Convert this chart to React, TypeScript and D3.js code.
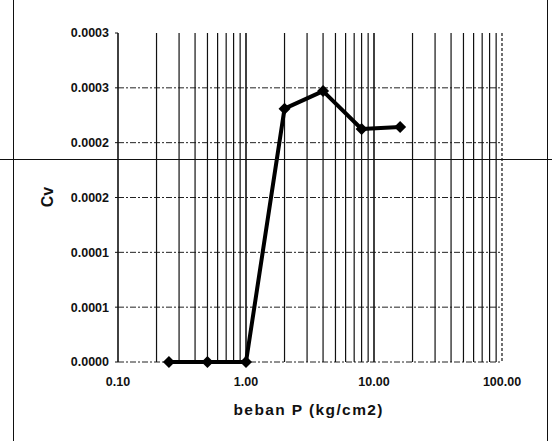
import { scaleLog, scaleLinear, line } from "d3";

const loads = [0.25, 0.5, 1, 2, 4, 8, 16];
const cvValues = [0, 0, 0, 0.000231, 0.000247, 0.0002125, 0.0002143];

const yTickValues = [0, 0.00005, 0.0001, 0.00015, 0.0002, 0.00025, 0.0003];
const yTickLabels = ["0.0000", "0.0001", "0.0001", "0.0002", "0.0002", "0.0003", "0.0003"];
const xTickValues = [0.1, 1, 10, 100];
const xTickLabels = ["0.10", "1.00", "10.00", "100.00"];

const W = 552;
const H = 441;
const left = 118;
const right = 502;
const top = 33;
const bottom = 362;
const font = "'Liberation Sans', Arial, sans-serif";

export default function App() {
    const x = scaleLog().domain([0.1, 100]).range([left, right]);
    const y = scaleLinear().domain([0, 0.0003]).range([bottom, top]);

    // minor log grid: 1..9 in every decade
    const gridX: number[] = [];
    for (let d = 0.1; d < 100; d *= 10) {
        for (let k = 1; k <= 9; k++) gridX.push(d * k);
    }
    gridX.push(100);

    const path = line<number>()
        .x((_, i) => x(loads[i]))
        .y((d) => y(d))(cvValues);

    return (
        <svg
            width={W}
            height={H}
            style={{ position: "absolute", left: 0, top: 0, background: "#fff" }}
        >
            <rect x={0} y={0} width={W} height={H} fill="#fff" />

            {/* horizontal dashed grid */}
            {yTickValues.slice(0, -1).map((v, i) => (
                <line
                    key={i}
                    x1={left}
                    x2={right}
                    y1={y(v)}
                    y2={y(v)}
                    stroke="#222"
                    strokeWidth={1}
                    strokeDasharray="6,2,2,2"
                />
            ))}

            {/* vertical log grid */}
            {gridX.map((v, i) => {
                const isEdge = i === gridX.length - 1;
                return (
                    <line
                        key={i}
                        x1={x(v)}
                        x2={x(v)}
                        y1={top}
                        y2={bottom}
                        stroke="#111"
                        strokeWidth={Math.abs(Math.log10(v) % 1) < 1e-9 && !isEdge ? 1.6 : 1.2}
                        strokeDasharray={isEdge ? "3,2" : undefined}
                    />
                );
            })}

            {/* y ticks */}
            {yTickValues.map((v, i) => (
                <g key={i}>
                    <line x1={left - 3} x2={left} y1={y(v)} y2={y(v)} stroke="#111" />
                    <text
                        x={109}
                        y={y(v)}
                        dy="0.35em"
                        textAnchor="end"
                        fontFamily={font}
                        fontWeight="bold"
                        fontSize={12.5}
                        fill="#111"
                    >
                        {yTickLabels[i]}
                    </text>
                </g>
            ))}

            {/* x ticks */}
            {xTickValues.map((v, i) => (
                <text
                    key={i}
                    x={x(v)}
                    y={386}
                    textAnchor="middle"
                    fontFamily={font}
                    fontWeight="bold"
                    fontSize={12.5}
                    fill="#111"
                >
                    {xTickLabels[i]}
                </text>
            ))}

            {/* series */}
            <path d={path ?? ""} fill="none" stroke="#000" strokeWidth={4} strokeLinejoin="round" />
            {loads.map((v, i) => (
                <path
                    key={i}
                    d="M0,-6L6,0L0,6L-6,0Z"
                    transform={`translate(${x(v)},${y(cvValues[i])})`}
                    fill="#000"
                />
            ))}

            {/* axis titles */}
            <text
                x={308}
                y={415}
                textAnchor="middle"
                fontFamily={font}
                fontWeight="bold"
                fontSize={15.5}
                textLength={149}
                fill="#111"
            >
                beban P (kg/cm2)
            </text>
            <text
                transform="translate(53,197) rotate(-90)"
                textAnchor="middle"
                fontFamily={font}
                fontWeight="bold"
                fontSize={16}
                fill="#111"
            >
                Cv
            </text>

            {/* scan frame lines */}
            <line x1={13.5} x2={13.5} y1={0} y2={H} stroke="#111" strokeWidth={1} />
            <line x1={547.5} x2={547.5} y1={0} y2={H} stroke="#111" strokeWidth={1} />
            <line x1={0} x2={W} y1={159.5} y2={159.5} stroke="#111" strokeWidth={1} />
        </svg>
    );
}
